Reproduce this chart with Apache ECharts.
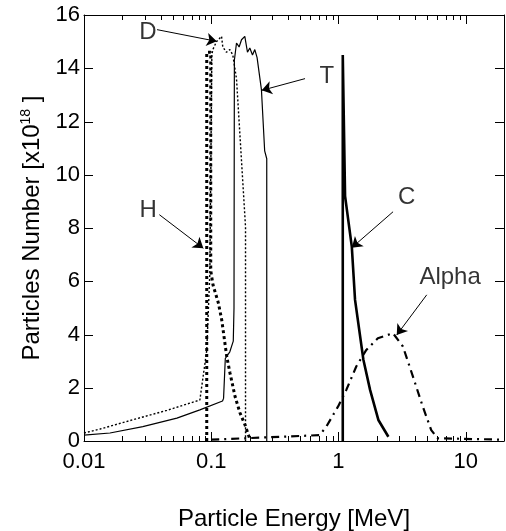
<!DOCTYPE html>
<html>
<head>
<meta charset="utf-8">
<script src="https://cdn.jsdelivr.net/npm/echarts@6/dist/echarts.min.js"></script>
<style>
  html, body { margin: 0; padding: 0; background: #fff; }
  #chart { width: 506px; height: 531px; }
</style>
</head>
<body>
<div id="chart"></div>
<script>
// energies in MeV, particle numbers in 1e18
const hEnergy = [0.0922, 0.0922, 0.0991, 0.0991, 0.1033, 0.1137, 0.1209, 0.1324, 0.1405, 0.1539, 0.1684, 0.1844, 0.2018]
const hNumber = [0, 14.6, 14.6, 6.4, 5.86, 5.19, 4.55, 3.17, 2.55, 1.67, 1.05, 0.6, 0.05]

const dEnergy = [0.01, 0.0134, 0.0243, 0.0448, 0.0814, 0.0922, 0.0975, 0.1011, 0.1029, 0.110, 0.1205, 0.1233, 0.1318, 0.14, 0.1477, 0.158, 0.186, 0.186]
const dNumber = [0.3, 0.45, 0.8, 1.15, 1.54, 3.4, 6.3, 14.5, 14.7, 15.0, 15.2, 14.8, 14.6, 14.7, 14.5, 13.6, 8.05, 0]

const tEnergy = [0.01, 0.016, 0.029, 0.0537, 0.0814, 0.1227, 0.125, 0.129, 0.14, 0.149, 0.151, 0.152, 0.158, 0.1656, 0.173, 0.1836, 0.1927, 0.201, 0.211, 0.220, 0.2293, 0.248, 0.263, 0.2731, 0.2731]
const tNumber = [0.22, 0.3, 0.54, 0.86, 1.17, 1.5, 1.6, 3.1, 3.35, 3.75, 5.0, 14.3, 14.95, 14.8, 15.07, 15.2, 14.6, 14.76, 14.5, 14.7, 14.4, 13.2, 10.9, 10.6, 0]

const cEnergy = [1.081, 1.081, 1.127, 1.273, 1.35, 1.57, 1.772, 2.059, 2.468]
const cNumber = [0, 14.5, 9.2, 7.3, 5.3, 3.05, 1.92, 0.79, 0.16]

const alphaEnergy = [0.1, 0.711, 0.803, 0.991, 1.153, 1.38, 1.655, 2.04, 2.68, 3.21, 3.85, 4.6, 5.36, 6.04, 20]
const alphaNumber = [0.05, 0.22, 0.54, 1.29, 1.92, 2.8, 3.42, 3.86, 4.05, 3.55, 2.42, 1.29, 0.41, 0.1, 0.05]

// annotation text positions [energy, number, text]
const labels = [
  [0.0318, 15.34, 'D'],
  [0.809, 13.68, 'T'],
  [0.032, 8.66, 'H'],
  [3.44, 9.14, 'C'],
  [7.54, 6.13, 'Alpha']
]
// arrows [fromE, fromN, toE, toN]
const arrows = [
  [0.0375, 15.45, 0.1104, 15.01],
  [0.546, 13.61, 0.2494, 13.17],
  [0.0391, 8.50, 0.0867, 7.24],
  [2.686, 8.61, 1.273, 7.26],
  [4.94, 5.49, 2.87, 3.98]
]

// tick positions
const xMajorTicks = [0.01, 0.1, 1, 10]
const yTicks = [0, 2, 4, 6, 8, 10, 12, 14, 16]
const xMinorTicks = []
for (let p = -2; p <= 1; p++) {
  for (let k = 2; k <= 9; k++) {
    const v = k * Math.pow(10, p)
    if (v < 20) xMinorTicks.push(+v.toPrecision(2))
  }
}

const font = 'Liberation Sans, Arial, sans-serif'
const zip = (a, b) => a.map((v, i) => [v, b[i]])

const chart = echarts.init(document.getElementById('chart'))

const logAxis = (pos, showLabel) => ({
  type: 'log',
  logBase: 10,
  min: 0.01,
  max: 20,
  position: pos,
  name: showLabel ? 'Particle Energy [MeV]' : '',
  nameLocation: 'middle',
  nameGap: 66,
  nameTextStyle: { color: '#000', fontSize: 24, fontFamily: font },
  axisLine: { show: true, onZero: false, lineStyle: { color: '#000', width: 1 } },
  axisTick: { show: false },
  axisLabel: {
    show: showLabel,
    color: '#000',
    fontSize: 22,
    fontFamily: font,
    margin: 10,
    formatter: v => {
      const l = Math.log10(v)
      return Math.abs(l - Math.round(l)) < 1e-6 ? String(+v.toPrecision(3)) : ''
    }
  },
  splitLine: { show: false }
})

const valAxis = (pos, showLabel) => ({
  type: 'value',
  min: 0,
  max: 16,
  interval: 2,
  position: pos,
  name: showLabel ? 'Particles Number [x10{sup|18} ]' : '',
  nameLocation: 'middle',
  nameGap: 36,
  nameTextStyle: {
    color: '#000', fontSize: 24, fontFamily: font,
    rich: { sup: { fontSize: 14, fontFamily: font, color: '#000', verticalAlign: 'top', padding: [0, 0, 12, 0] } }
  },
  axisLine: { show: true, onZero: false, lineStyle: { color: '#000', width: 1 } },
  axisTick: { show: false },
  axisLabel: { show: showLabel, color: '#000', fontSize: 22, fontFamily: font, margin: 4 },
  splitLine: { show: false }
})

// tick marks drawn inward on all four sides, placed through the axes
const tickRect = (x, y, w, h) => ({ type: 'rect', shape: { x, y, width: w, height: h }, style: { fill: '#000' } })

const option = {
  animation: false,
  backgroundColor: '#fff',
  grid: { left: 84, top: 15, width: 420, height: 426, outerBoundsMode: 'none' },
  xAxis: [logAxis('bottom', true), logAxis('top', false)],
  yAxis: [valAxis('left', true), valAxis('right', false)],
  series: [
    {
      name: 'D', type: 'line', showSymbol: false, data: zip(dEnergy, dNumber),
      lineStyle: { color: '#000', width: 1.4, type: [2, 2] }
    },
    {
      name: 'T', type: 'line', showSymbol: false, data: zip(tEnergy, tNumber),
      lineStyle: { color: '#000', width: 1.2 }
    },
    {
      name: 'H', type: 'line', showSymbol: false, data: zip(hEnergy, hNumber),
      lineStyle: { color: '#000', width: 3, type: [3, 3] }
    },
    {
      name: 'C', type: 'line', showSymbol: false, data: zip(cEnergy, cNumber),
      lineStyle: { color: '#000', width: 2.6 }
    },
    {
      name: 'Alpha', type: 'line', showSymbol: false, data: zip(alphaEnergy, alphaNumber),
      lineStyle: { color: '#000', width: 2.2, type: [8, 5, 2, 5] }
    },
    {
      type: 'custom',
      clip: false,
      z: 10,
      data: xMajorTicks.map(v => [v, 9]).concat(xMinorTicks.map(v => [v, 5])),
      renderItem: (params, api) => {
        const len = api.value(1)
        const b = api.coord([api.value(0), 0])
        const t = api.coord([api.value(0), 16])
        return {
          type: 'group',
          children: [
            tickRect(Math.round(b[0]), Math.round(b[1]) - len, 1, len),
            tickRect(Math.round(t[0]), Math.round(t[1]), 1, len)
          ]
        }
      }
    },
    {
      type: 'custom',
      clip: false,
      z: 10,
      data: yTicks.map(v => [0.01, v]),
      renderItem: (params, api) => {
        const l = api.coord([0.01, api.value(1)])
        const r = api.coord([20, api.value(1)])
        return {
          type: 'group',
          children: [
            tickRect(Math.round(l[0]), Math.round(l[1]), 9, 1),
            tickRect(Math.round(r[0]) - 9, Math.round(r[1]), 9, 1)
          ]
        }
      }
    },
    {
      type: 'scatter',
      symbolSize: 0.01,
      itemStyle: { color: '#000' },
      data: labels,
      label: {
        show: true,
        position: 'inside',
        color: '#000',
        textBorderWidth: 0,
        fontSize: 24,
        fontFamily: font,
        formatter: p => p.value[2]
      },
      markLine: {
        symbol: ['none', 'arrow'],
        symbolSize: 10,
        label: { show: false },
        lineStyle: { color: '#000', width: 1, type: 'solid' },
        data: arrows.map(a => [{ coord: [a[0], a[1]] }, { coord: [a[2], a[3]] }])
      }
    }
  ]
}

chart.setOption(option)
</script>
</body>
</html>
